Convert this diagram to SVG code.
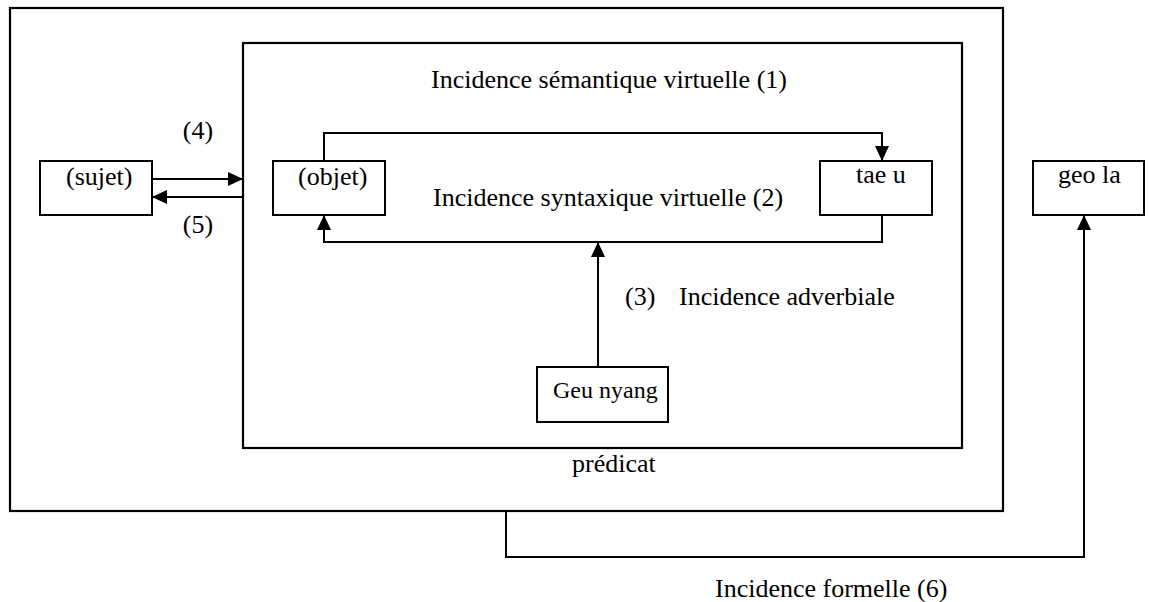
<svg xmlns="http://www.w3.org/2000/svg" width="1149" height="602" viewBox="0 0 1149 602">
<style>
.box{fill:#fff;stroke:#000;stroke-width:2}
.frame{fill:none;stroke:#000;stroke-width:2.2}
.t{font-family:"Liberation Serif","Times New Roman",serif;font-size:26px;fill:#000}
.c{fill:none;stroke:#000;stroke-width:2}
</style>
<defs>
<marker id="ah" markerUnits="userSpaceOnUse" markerWidth="16" markerHeight="14" refX="15" refY="7" orient="auto">
<path d="M0,0 L15,7 L0,14 Z" fill="#000"/>
</marker>
</defs>
<rect width="1149" height="602" fill="#fff"/>
<g id="outer">
<rect class="frame" x="10" y="8" width="993" height="503"/>
<text class="t" x="572" y="472">prédicat</text>
</g>
<g id="inner">
<rect class="frame" x="243" y="43" width="719" height="405"/>
<text class="t" x="609" y="88" text-anchor="middle">Incidence sémantique virtuelle (1)</text>
<text class="t" x="433" y="206">Incidence syntaxique virtuelle (2)</text>
</g>
<g id="sujet">
<rect class="box" x="40" y="161" width="112" height="54"/>
<text class="t" x="66" y="185">(sujet)</text>
</g>
<g id="objet">
<rect class="box" x="273" y="161" width="112" height="54"/>
<text class="t" x="298" y="185">(objet)</text>
</g>
<g id="taeu">
<rect class="box" x="820" y="161" width="112" height="54"/>
<text class="t" x="856" y="183">tae u</text>
</g>
<g id="geola">
<rect class="box" x="1033" y="161" width="111" height="54"/>
<text class="t" x="1058" y="183">geo la</text>
</g>
<g id="geunyang">
<rect class="box" x="537" y="367" width="131" height="55"/>
<text class="t" x="553" y="398" style="font-size:24px">Geu nyang</text>
</g>
<g id="connectors">
<path class="c" d="M324 161 V133 H882 V161" marker-end="url(#ah)"/>
<path class="c" d="M882 215 V242 H324 V215" marker-end="url(#ah)"/>
<path class="c" d="M598 367 V242" marker-end="url(#ah)"/>
<path class="c" d="M152 179 H243" marker-end="url(#ah)"/>
<path class="c" d="M243 197 H152" marker-end="url(#ah)"/>
<path class="c" d="M506 511 V557 H1084 V215" marker-end="url(#ah)"/>
<text class="t" x="198" y="139" text-anchor="middle">(4)</text>
<text class="t" x="198" y="233" text-anchor="middle">(5)</text>
<text class="t" x="625" y="305">(3)</text>
<text class="t" x="679" y="305">Incidence adverbiale</text>
<text class="t" x="715" y="597">Incidence formelle (6)</text>
</g>
</svg>
